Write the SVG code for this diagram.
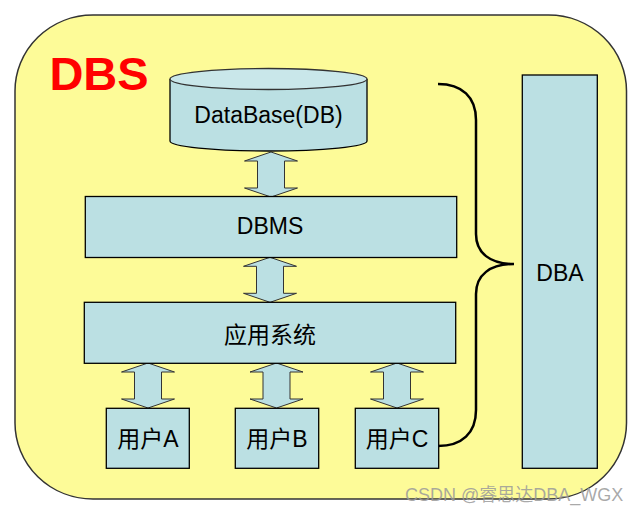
<svg xmlns="http://www.w3.org/2000/svg" width="639" height="513" viewBox="0 0 639 513">
<defs>
<style>
.box{fill:#BBE0E3;stroke:#000;stroke-width:1.3}
.arr{fill:#BBE0E3;stroke:#333;stroke-width:1}
.t{font-family:"Liberation Sans",Arial,"Noto Sans CJK SC",sans-serif;font-size:23px;fill:#000;text-anchor:middle}
</style>
<path id="dblarrow" d="M0,0 L26.5,9 L13.5,9 L13.5,36 L26.5,36 L0,45 L-26.5,36 L-13.5,36 L-13.5,9 L-26.5,9 Z"/>
</defs>
<rect width="639" height="513" fill="#fff"/>
<g id="dbs">
<rect x="15" y="15" width="611.5" height="484" rx="78" ry="76" fill="#FDFB98" stroke="#333" stroke-width="1.5"/>
<text x="99" y="90" style="font-family:'Liberation Sans',Arial,sans-serif;font-weight:bold;font-size:47px;fill:#FF0000;text-anchor:middle">DBS</text>
</g>
<g id="connectors">
<use href="#dblarrow" class="arr" x="271" y="152"/>
<use href="#dblarrow" class="arr" x="270" y="257.3"/>
<use href="#dblarrow" class="arr" x="148" y="363"/>
<use href="#dblarrow" class="arr" x="276.5" y="363"/>
<use href="#dblarrow" class="arr" x="397" y="363"/>
<path d="M438,84 C462,84 476,97 476,120 L476,234 C476,253 490,264 514,264 C490,264 476,275 476,294 L476,410 C476,433 462,446 438,446" fill="none" stroke="#000" stroke-width="2.5"/>
</g>
<g id="db">
<path d="M170,79 L170,141 A98.5,10 0 0 0 367,141 L367,79" class="box" stroke="#333"/>
<ellipse cx="268.5" cy="79" rx="98.5" ry="10.5" fill="#C9E7EA" stroke="#333" stroke-width="1.3"/>
<text class="t" x="268.5" y="123">DataBase(DB)</text>
</g>
<g id="dbms">
<rect class="box" x="85.3" y="196.5" width="371.4" height="61"/>
<text class="t" x="270" y="234">DBMS</text>
</g>
<g id="app">
<rect class="box" x="84.3" y="302.3" width="371.4" height="61"/>
<text class="t" x="270" y="343">应用系统</text>
</g>
<g id="userA">
<rect class="box" x="106.3" y="408.3" width="83" height="60"/>
<text class="t" x="147.8" y="447">用户A</text>
</g>
<g id="userB">
<rect class="box" x="235.3" y="408.3" width="83.4" height="60"/>
<text class="t" x="277" y="447">用户B</text>
</g>
<g id="userC">
<rect class="box" x="355.3" y="408.3" width="83.4" height="60"/>
<text class="t" x="397" y="447">用户C</text>
</g>
<g id="dba">
<rect class="box" x="522.3" y="75" width="75" height="393.3"/>
<text class="t" x="560" y="280.5">DBA</text>
</g>
<text x="405" y="500.5" style="font-family:'Liberation Sans',Arial,'Noto Sans CJK SC',sans-serif;font-size:18px;fill:#9a9a9a;fill-opacity:0.85">CSDN @睿思达DBA_WGX</text>
</svg>
